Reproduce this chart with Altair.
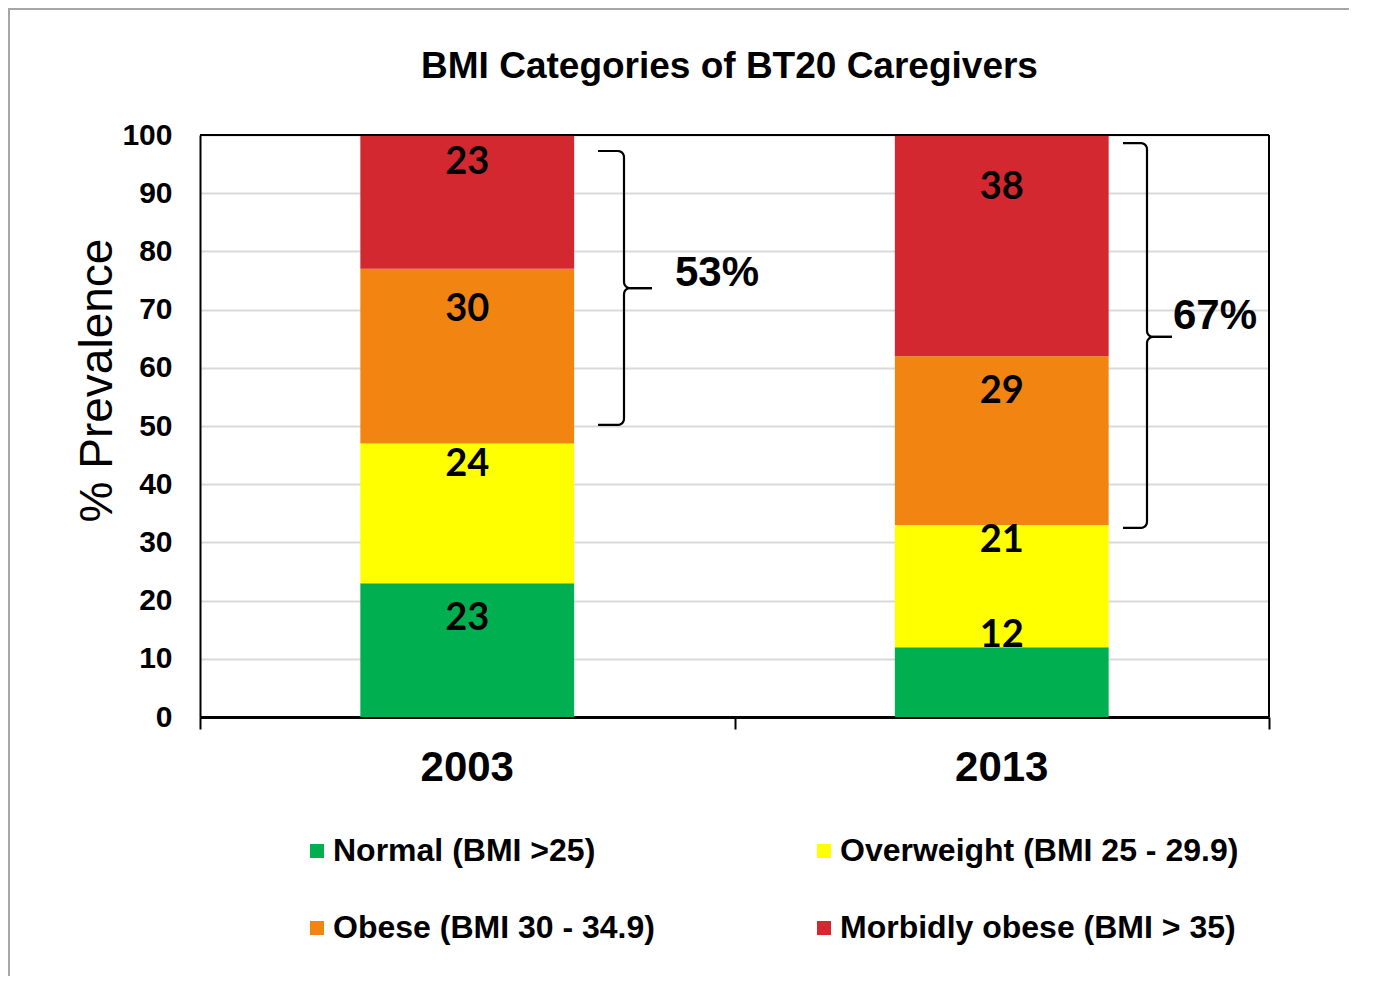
import altair as alt
import numpy as np
import pandas as pd

# ---------------- data ----------------
years = ["2003", "2013"]
categories = [
    "Normal (BMI >25)",
    "Overweight (BMI 25 - 29.9)",
    "Obese (BMI 30 - 34.9)",
    "Morbidly obese (BMI > 35)",
]
values_2003 = [23, 24, 30, 23]
values_2013 = [12, 21, 29, 38]
# where the value labels sit (in % units)
label_y_2003 = [16.8, 43.3, 69.9, 95.2]
label_y_2013 = [13.9, 30.2, 55.8, 90.9]
colors = ["#00b050", "#ffff00", "#f28411", "#d3282f"]

# brackets (annotation): label, top, tip, bottom (in % units)
bracket_labels = ["53%", "67%"]
bracket_top = [97.25, 98.6]
bracket_tip = [73.7, 65.3]
bracket_bottom = [50.2, 32.5]
bracket_label_y = [76.3, 68.9]

# ---------------- geometry / style ----------------
W, H = 1069, 582
half_bar = 0.2
FONT = "Liberation Sans"

rows = []
for i, (yr, vals, ly) in enumerate(zip(years, [values_2003, values_2013], [label_y_2003, label_y_2013])):
    base = 0
    for cat, v, lyy in zip(categories, vals, ly):
        rows.append(dict(year=yr, cat=cat, value=v, y0=base, y1=base + v,
                         xc=i + 0.5, x0=i + 0.5 - half_bar, x1=i + 0.5 + half_bar,
                         ly=lyy, txt=str(v)))
        base += v
bars_df = pd.DataFrame(rows)
years_df = pd.DataFrame(dict(year=years, xc=[i + 0.5 for i in range(len(years))]))

# brace shapes
px_x = W / 2.0
px_y = H / 100.0
brace_x = [(598 - 200) / px_x, (1123 - 200) / px_x]
brace_mid = [(624 - 200) / px_x, (1147 - 200) / px_x]
brace_tipx = [(652 - 200) / px_x, (1172 - 200) / px_x]
label_x = [(675 - 200) / px_x, (1173 - 200) / px_x]
rx = 6 / px_x
ry = 6 / px_y


def arc(cx, cy, a0, a1, n=6):
    t = np.radians(np.linspace(a0, a1, n))
    return list(zip(cx + rx * np.cos(t), cy + ry * np.sin(t)))


brace_rows = []
for b in range(len(bracket_labels)):
    xe, xm, xt = brace_x[b], brace_mid[b], brace_tipx[b]
    yt, yp, yb = bracket_top[b], bracket_tip[b], bracket_bottom[b]
    top = [(xe, yt)] + arc(xm - rx, yt - ry, 90, 0) + arc(xm + rx, yp + ry, 180, 270) + [(xt, yp)]
    bot = [(xt, yp)] + arc(xm + rx, yp - ry, 90, 180) + arc(xm - rx, yb + ry, 0, -90) + [(xe, yb)]
    for s, pts in enumerate([top, bot]):
        for k, (px, py) in enumerate(pts):
            brace_rows.append(dict(seg=f"{b}-{s}", i=k, bx=px, by=py))
brace_df = pd.DataFrame(brace_rows)
blabel_df = pd.DataFrame(dict(txt=bracket_labels, x=label_x, y=bracket_label_y))

# ---------------- chart ----------------
xscale = alt.Scale(domain=[0, 2], nice=False, zero=False)
yscale = alt.Scale(domain=[0, 100], nice=False)

bars = alt.Chart(bars_df).mark_rect(strokeWidth=0).encode(
    x=alt.X("x0:Q", scale=xscale, title=None,
            axis=alt.Axis(values=[0, 1, 2], labels=False, ticks=True, tickSize=12,
                          tickWidth=2, tickColor="black", domainColor="black",
                          domainWidth=3, grid=False)),
    x2="x1:Q",
    y=alt.Y("y0:Q", scale=yscale,
            axis=alt.Axis(values=list(range(0, 101, 10)), ticks=False, tickSize=0,
                          labelPadding=28, labelFont=FONT, labelFontWeight="bold",
                          labelFontSize=30, labelColor="black",
                          domainColor="black", domainWidth=2,
                          gridColor="#d9d9d9", gridWidth=2,
                          title="% Prevalence", titleFont=FONT, titleFontWeight="normal",
                          titleFontSize=46, titleColor="black", titleAngle=270,
                          titleX=-103, titleY=245, titleAlign="center",
                          titleBaseline="middle")),
    y2="y1:Q",
    color=alt.Color("cat:N",
                    scale=alt.Scale(domain=categories, range=colors),
                    legend=alt.Legend(title=None, orient="none", legendX=101, legendY=700,
                                      direction="horizontal",
                                      columns=2, columnPadding=153, rowPadding=45,
                                      symbolType="square", symbolSize=196,
                                      symbolStrokeWidth=0, labelOffset=0,
                                      labelFont=FONT, labelFontWeight="bold",
                                      labelFontSize=32, labelColor="black",
                                      labelLimit=600, padding=0)),
)

bar_labels = alt.Chart(bars_df).mark_text(
    font="Lato", fontWeight="bold", fontSize=38, color="black", baseline="middle", align="center"
).encode(x=alt.X("xc:Q", scale=xscale), y=alt.Y("ly:Q", scale=yscale), text="txt:N")

year_labels = alt.Chart(years_df).mark_text(
    font=FONT, fontWeight="bold", fontSize=42, color="black", baseline="middle", align="center"
).encode(x=alt.X("xc:Q", scale=xscale), y=alt.value(H + 51), text="year:N")

braces = alt.Chart(brace_df).mark_line(color="black", strokeWidth=2.2, strokeJoin="round").encode(
    x=alt.X("bx:Q", scale=xscale), y=alt.Y("by:Q", scale=yscale), detail="seg:N", order="i:Q"
)

brace_text = alt.Chart(blabel_df).mark_text(
    font=FONT, fontWeight="bold", fontSize=42, color="black", baseline="middle", align="left"
).encode(x=alt.X("x:Q", scale=xscale), y=alt.Y("y:Q", scale=yscale), text="txt:N")

one = years_df.head(1)
frame_top = alt.Chart(one).mark_rule(color="#a6a6a6", strokeWidth=2).encode(
    x=alt.value(-192), x2=alt.value(1149), y=alt.value(-126)
)
frame_left = alt.Chart(one).mark_rule(color="#a6a6a6", strokeWidth=2).encode(
    x=alt.value(-191), y=alt.value(-127), y2=alt.value(841)
)
border_top = alt.Chart(one).mark_rule(color="black", strokeWidth=2).encode(
    x=alt.value(0), x2=alt.value(W), y=alt.value(0)
)
border_right = alt.Chart(one).mark_rule(color="black", strokeWidth=2).encode(
    x=alt.value(W), y=alt.value(0), y2=alt.value(H)
)

chart = alt.layer(frame_top, frame_left, bars, border_top, border_right,
                  bar_labels, year_labels, braces, brace_text).properties(
    width=W, height=H,
    title=alt.TitleParams("BMI Categories of BT20 Caregivers", font=FONT, fontWeight="bold",
                          fontSize=37, color="black", anchor="middle", frame="group",
                          offset=0, dy=108, dx=-5, baseline="alphabetic"),
    autosize=alt.AutoSizeParams(type="none"),
    padding={"left": 192, "top": 127, "right": 100, "bottom": 259},
).configure_view(stroke="black", strokeWidth=2).configure(background="white")

chart.save("out.html", embed_options={"renderer": "svg", "actions": False})
